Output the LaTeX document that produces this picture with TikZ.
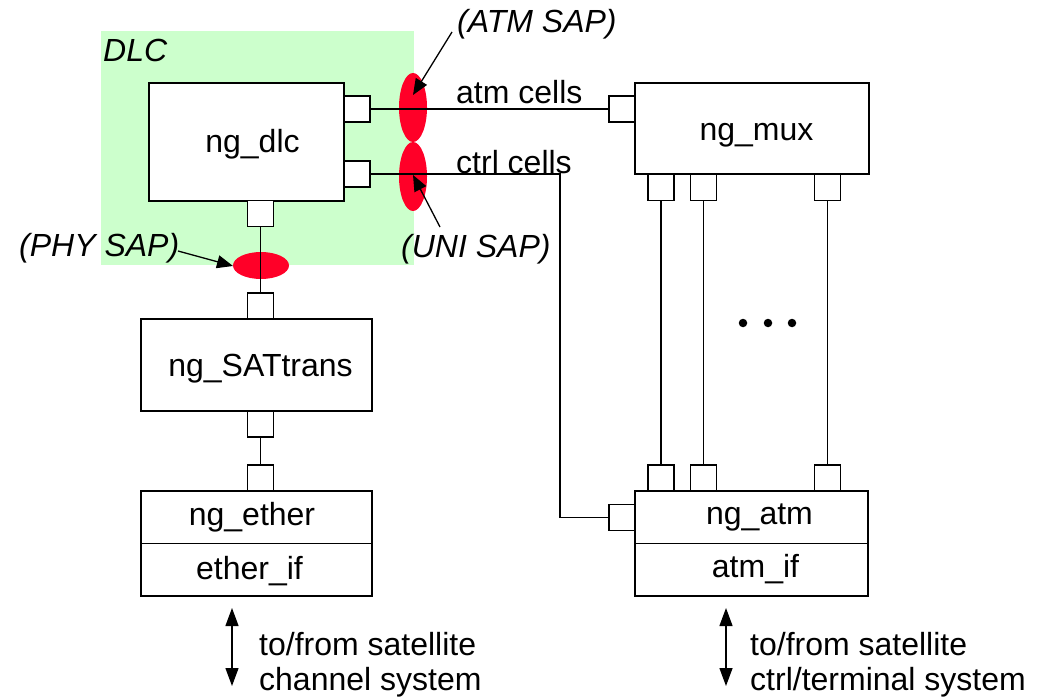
\documentclass[tikz,border=0pt]{standalone}
\usepackage{fontspec}
\setmainfont{Liberation Sans}
\usetikzlibrary{shapes.geometric,arrows.meta}
\definecolor{dlcgreen}{RGB}{204,255,204}
\definecolor{sapred}{RGB}{255,0,40}
\tikzset{
  box/.style={draw=black, fill=white, line width=1.7pt, inner sep=0pt, rectangle},
  port/.style={draw=black, fill=white, line width=1.6pt, inner sep=0pt,
               minimum width=26pt, minimum height=26pt, rectangle},
  wire/.style={draw=black, line width=1.3pt},
  sap/.style={ellipse, fill=sapred, draw=none, inner sep=0pt},
  txt/.style={inner sep=0pt, anchor=base, font=\fontsize{32}{38}\selectfont},
  ltxt/.style={inner sep=0pt, anchor=base west, font=\fontsize{32}{38}\selectfont},
  itxt/.style={ltxt, font=\fontsize{32}{38}\selectfont\itshape},
  pointer/.style={draw=black, line width=1.3pt, -{Triangle[length=16pt,width=13pt]}},
  both/.style={draw=black, line width=1.3pt,
               {Triangle[length=18pt,width=13pt]}-{Triangle[length=18pt,width=13pt]}},
  dot/.style={circle, fill=black, inner sep=0pt, minimum size=8.5pt}
}
\begin{document}
\begin{tikzpicture}[x=1pt,y=-1pt]
\useasboundingbox (0,0) rectangle (1038,698);

% DLC area
\fill[dlcgreen] (101,31) rectangle (414,265);
\node[itxt] (dlclbl) at (103,62) {DLC};

% service access points
\node[sap, minimum width=28pt, minimum height=69pt] (sapA) at (413,107.5) {};
\node[sap, minimum width=28pt, minimum height=69pt] (sapU) at (413,176.5) {};
\node[sap, minimum width=56pt, minimum height=27pt] (sapP) at (261,265.5) {};

% main blocks
\node[box, minimum width=195pt, minimum height=118pt] (dlc) at (246.3,142) {};
\node[box, minimum width=234pt, minimum height=91pt] (mux) at (752,128.5) {};
\node[box, minimum width=231pt, minimum height=92pt] (sat) at (256.5,365) {};
\node[box, minimum width=231pt, minimum height=105pt] (eth) at (256.5,543.5) {};
\node[box, minimum width=233pt, minimum height=105pt] (atm) at (751.5,543.5) {};
\draw[line width=1.7pt] (eth.west) -- (eth.east);
\draw[line width=1.7pt] (atm.west) -- (atm.east);

% ports
\node[port] (dlcA) at (357,109) {};
\node[port] (dlcB) at (357,174) {};
\node[port] (dlcS) at (260.5,213.5) {};
\node[port] (satN) at (260.5,306) {};
\node[port] (satS) at (260.5,424) {};
\node[port] (ethN) at (260.5,478) {};
\node[port] (muxW) at (622,109) {};
\node[port] (mux1) at (661,187.5) {};
\node[port] (mux2) at (703.5,187.5) {};
\node[port] (mux3) at (827.5,187.5) {};
\node[port] (atm1) at (661,478) {};
\node[port] (atm2) at (703.5,478) {};
\node[port] (atm3) at (827.5,478) {};
\node[port] (atmW) at (622,517.5) {};

% connections
\coordinate (bend) at (560,174);
\draw[wire] (dlcA.east) -- (muxW.west);
\draw[wire] (dlcB.east) -- (bend) |- (atmW.west);
\draw[wire] (dlcS.south) -- (satN.north);
\draw[wire] (satS.south) -- (ethN.north);
\draw[wire] (mux1.south) -- (atm1.north);
\draw[wire] (mux2.south) -- (atm2.north);
\draw[wire] (mux3.south) -- (atm3.north);

% block names
\node[txt] (tdlc) at (252.5,152) {ng\_dlc};
\node[txt] (tmux) at (756.5,140) {ng\_mux};
\node[txt] (tsat) at (260.5,376) {ng\_SATtrans};
\node[txt] (teth) at (252,525) {ng\_ether};
\node[txt] (tethif) at (249.5,579) {ether\_if};
\node[txt] (tatm) at (759.5,524) {ng\_atm};
\node[txt] (tatmif) at (755.5,577) {atm\_if};

% wire labels
\node[ltxt] (atmcells) at (456,103) {atm cells};
\node[ltxt] (ctrlcells) at (456,173) {ctrl cells};

% SAP labels and pointers
\node[itxt] (latm) at (457,33) {(ATM SAP)};
\node[itxt] (luni) at (401,257) {(UNI SAP)};
\node[itxt] (lphy) at (19,256) {(PHY SAP)};
\coordinate (atmFrom) at (452,32);
\coordinate (atmTip) at (413,95);
\coordinate (uniFrom) at (440,227);
\coordinate (uniTip) at (413,175);
\coordinate (phyFrom) at (178,251);
\coordinate (phyTip) at (233,266);
\draw[pointer] (atmFrom) -- (atmTip);
\draw[pointer] (uniFrom) -- (uniTip);
\draw[pointer] (phyFrom) -- (phyTip);

% parallel links placeholder dots
\node[dot] (d1) at (743,323) {};
\node[dot] (d2) at (768,323) {};
\node[dot] (d3) at (792,323) {};

% external interfaces
\coordinate (lt) at (232,608);
\coordinate (lb) at (232,686);
\coordinate (rt) at (726,608);
\coordinate (rb) at (726,686);
\draw[both] (lt) -- (lb);
\draw[both] (rt) -- (rb);
\node[ltxt] (l1) at (259,655) {to/from satellite};
\node[ltxt] (l2) at (259,690) {channel system};
\node[ltxt] (r1) at (750,655) {to/from satellite};
\node[ltxt] (r2) at (750,690) {ctrl/terminal system};
\end{tikzpicture}
\end{document}
